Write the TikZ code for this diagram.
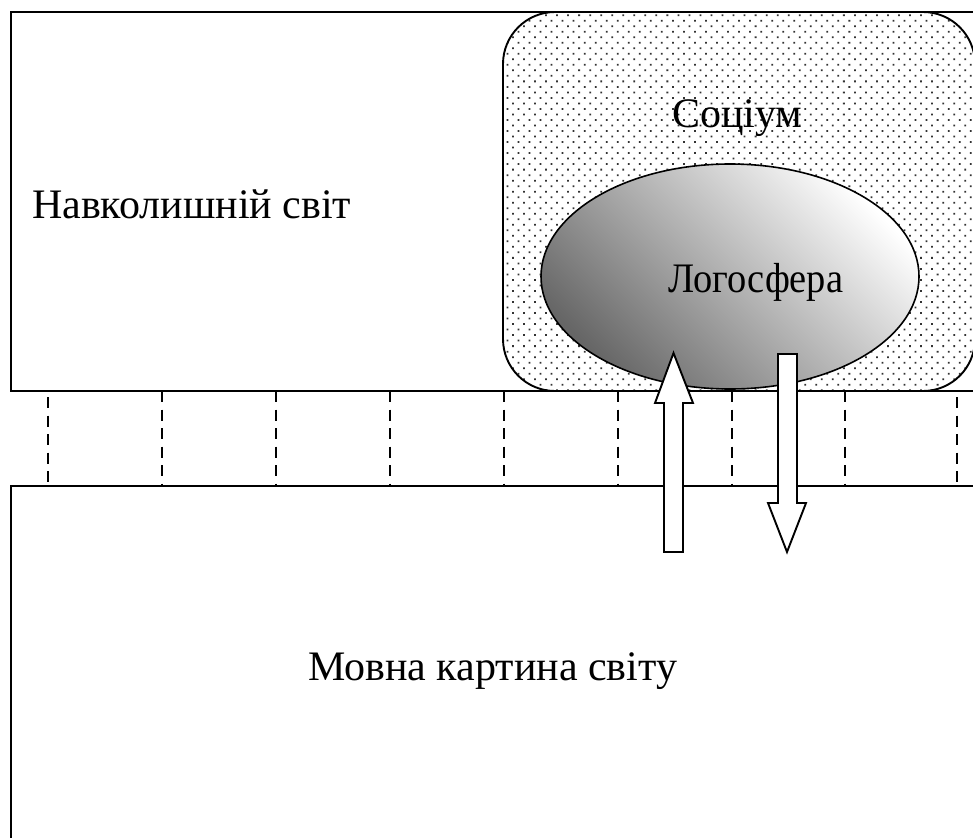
\documentclass[tikz,border=0pt]{standalone}
\usepackage{fontspec}
\setmainfont{Liberation Serif}
\usetikzlibrary{patterns.meta}
\begin{document}
\begin{tikzpicture}[x=1pt,y=-1pt,
  frame/.style={draw=black, line width=1.9pt},
  sepline/.style={draw=black, line width=2pt, dash pattern=on 11pt off 7.5pt},
  blockarrow/.style={draw=black, fill=white, line width=1.9pt, line join=miter},
  lbl/.style={font=\fontsize{42}{50}\selectfont, inner sep=0pt, anchor=base west}]
\useasboundingbox (0,0) rectangle (973,837);
\clip (0,0) rectangle (973,837);
\fill[white] (0,0) rectangle (973,837);
% outer regions
\draw[frame] (11,12) rectangle (1000,391);
\draw[frame] (11,486) rectangle (1000,900);
% socium
\fill[white, rounded corners=52pt] (503,12) rectangle (975,391);
\fill[pattern={Dots[angle=45, distance=7.8pt, radius=1.25pt]}, pattern color=black!80, rounded corners=52pt] (503,12) rectangle (975,391);
\draw[frame, rounded corners=52pt] (503,12) rectangle (975,391);
% logosphere
\shade[shading=axis, top color=white, bottom color=black!60, shading angle=-45] (730,276.5) ellipse [x radius=189, y radius=112.5];
\draw[black, line width=1.6pt] (730,276.5) ellipse [x radius=189, y radius=112.5];
\draw[frame] (11,391) -- (1000,391);
% dashed separators
\foreach \x/\y in {48/397,162/391,276/391,390/391,504/391,618/391,732/391,845/391,957/397}
  \draw[sepline] (\x,\y) -- (\x,486);
% block arrows
\draw[blockarrow] (664,552) -- (664,403) -- (655,403) -- (673.5,353) -- (693,403) -- (683,403) -- (683,552) -- cycle;
\draw[blockarrow] (778,354) -- (797,354) -- (797,503) -- (806,503) -- (787,552) -- (768,503) -- (778,503) -- cycle;
% labels
\node[lbl] (nav) at (32,218) {Навколишній світ};
\node[lbl] (soc) at (672,128) {Соціум};
\node[lbl] (logo) at (668,292) {\scalebox{0.915}[1]{Логосфера}};
\node[lbl] (mov) at (308,680) {Мовна картина світу};
\end{tikzpicture}
\end{document}
